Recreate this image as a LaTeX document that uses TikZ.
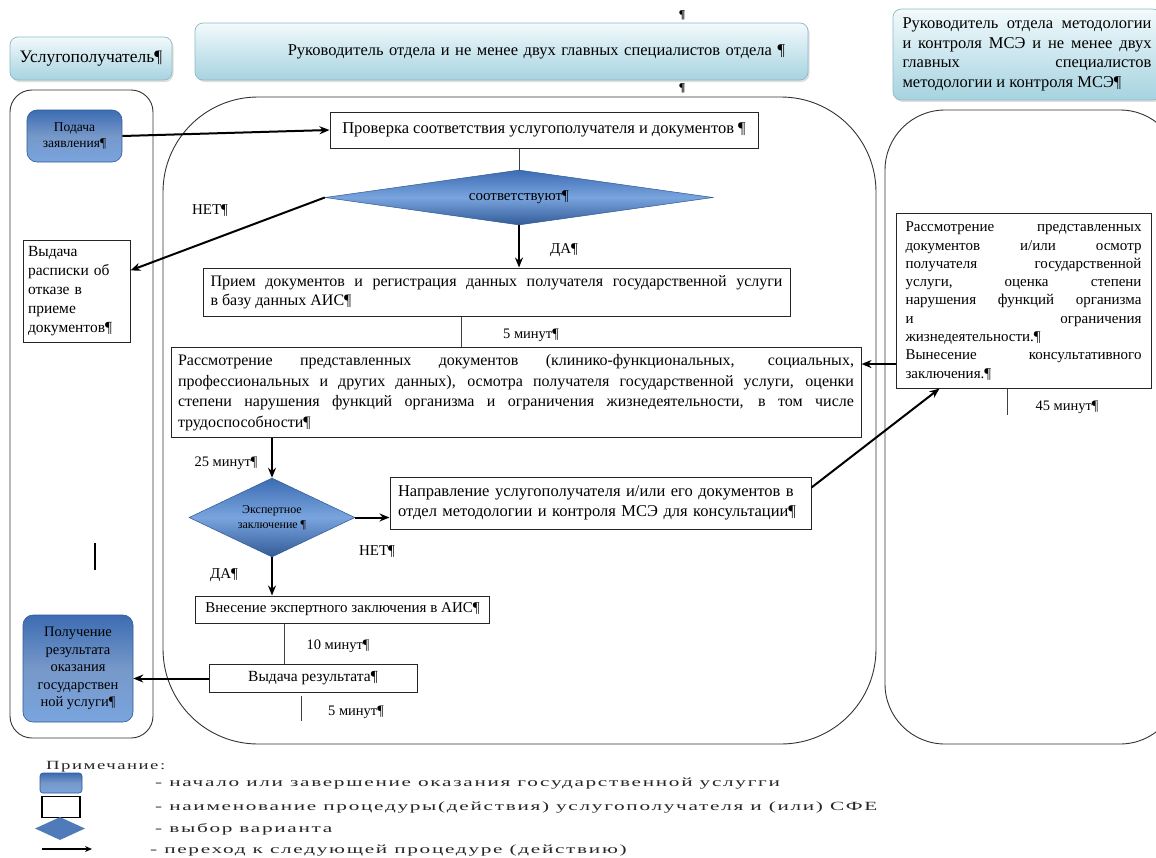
\documentclass[tikz,border=0pt]{standalone}
\usepackage{fontspec}
\setmainfont{Liberation Serif}
\newfontfamily\legfont[LetterSpace=8]{Liberation Serif}
\usetikzlibrary{shapes.geometric,arrows.meta,calc,shadows}
\definecolor{hdrtop}{HTML}{F2FAFC}
\definecolor{hdrbot}{HTML}{A6D3E0}
\definecolor{hdrline}{HTML}{8FB8C6}
\definecolor{bluetop}{HTML}{3C6CB2}
\definecolor{bluebot}{HTML}{79A4DE}
\definecolor{blueline}{HTML}{2E5A94}
\definecolor{legtext}{HTML}{262626}
\newcommand\fsz[2]{\fontsize{#1}{#2}\selectfont}
\newcommand\legtxt[1]{\scalebox{1.7}[1]{#1}}
\hyphenpenalty=10000
\exhyphenpenalty=10000
\tolerance=10000
\begin{document}
\begin{tikzpicture}[x=1pt,y=-1pt,
  lane/.style={draw=black!80, line width=0.9pt},
  hdr/.style={rounded corners=8pt, top color=hdrtop, bottom color=hdrbot, draw=hdrline, line width=0.7pt, inner sep=0pt,
    drop shadow={opacity=0.25, shadow xshift=1.5pt, shadow yshift=-2pt}},
  proc/.style={draw=black!85, line width=1pt, fill=white, inner sep=6pt},
  startend/.style={rounded corners=10pt, top color=bluetop, bottom color=bluebot, middle color=bluetop!70!white, draw=blueline, line width=0.6pt, inner sep=2pt},
  decision/.style={diamond, top color=bluetop, bottom color=bluetop!85!black, middle color=bluebot, draw=blueline, line width=0.5pt, inner sep=0pt},
  arr/.style={-{Stealth[length=10pt,width=8pt]}, line width=2pt, black},
  conn/.style={line width=0.8pt, black!75},
  lbl/.style={inner sep=0pt, font=\fsz{14.5}{16}},
  leg/.style={anchor=west, inner sep=0pt, text=legtext, font=\legfont\fsz{12.5}{14}}
]
\useasboundingbox (0,0) rectangle (1156,857);

% swimlanes
\draw[lane, rounded corners=22pt] (10,90) rectangle (153,738);
\draw[lane, rounded corners=95pt] (163,97) rectangle (876,744);
\draw[lane, rounded corners=60pt] (885,110) rectangle (1180,744);

% headers
\node[hdr, minimum width=162, minimum height=43, font=\fsz{17.5}{20}] (hL) at (91,58.5) {Услугополучатель¶};
\node[hdr, minimum width=613, minimum height=57, text width=567, align=right, font=\fsz{16.5}{19}] (hM) at (501.5,51.5) {Руководитель отдела и не менее двух главных специалистов отдела ¶};
\node[hdr, minimum width=268, minimum height=85, text width=249, inner sep=9pt, align=justify, font=\fsz{16.5}{19.5}] (hR) at (1027,54.5) {Руководитель отдела методологии\linebreak и контроля МСЭ и не менее двух\linebreak главных специалистов\linebreak методологии и контроля МСЭ¶};
\node[inner sep=0pt, font=\fsz{12}{12}\bfseries] (pA) at (682,15) {¶};
\node[inner sep=0pt, font=\fsz{12}{12}\bfseries] (pB) at (682,88) {¶};

% process nodes
\node[startend, minimum width=95, minimum height=52, align=center, font=\fsz{13.5}{16}] (podacha) at (74.5,136) {Подача\\заявления¶};
\node[proc, minimum width=428, minimum height=36, font=\fsz{16.5}{19}] (proverka) at (544,130) {Проверка соответствия услугополучателя и документов ¶};
\node[decision, minimum width=388, minimum height=55, aspect=7, font=\fsz{15}{18}] (d1) at (519,197.5) {соответствуют¶};
\node[proc, minimum width=107, minimum height=102, text width=97, inner sep=5pt, align=left, font=\fsz{15.5}{19}] (otkaz) at (76.5,291) {Выдача\\расписки об\\отказе в\\приеме\\документов¶};
\node[proc, minimum width=587, minimum height=48, text width=572, inner sep=7pt, align=justify, font=\fsz{16}{19}] (priem) at (496.5,292) {Прием документов и регистрация данных получателя государственной услуги\linebreak в базу данных АИС¶};
\node[proc, minimum width=690, minimum height=85, text width=676, inner sep=7pt, align=justify, font=\fsz{16}{20.5}] (big) at (516,392.5) {Рассмотрение представленных документов (клинико-функциональных, социальных,\linebreak профессиональных и других данных), осмотра получателя государственной услуги, оценки\linebreak степени нарушения функций организма и ограничения жизнедеятельности, в том числе\linebreak трудоспособности¶};
\node[decision, minimum width=166, minimum height=79, aspect=2.1, align=center, font=\fsz{12}{15}] (d2) at (272,517.5) {Экспертное\\заключение ¶};
\node[proc, minimum width=421, minimum height=52, text width=405, inner sep=5pt, align=left, font=\fsz{16.5}{19.5}] (napr) at (600.5,503) {Направление услугополучателя и/или его документов в\\отдел методологии и контроля МСЭ для консультации¶};
\node[proc, minimum width=255, minimum height=172, text width=236, inner sep=8pt, align=justify, font=\fsz{15}{18.3}] (rbox) at (1023.5,301) {Рассмотрение представленных\linebreak документов и/или осмотр\linebreak получателя государственной\linebreak услуги, оценка степени\linebreak нарушения функций организма\linebreak и ограничения\linebreak жизнедеятельности.¶\\Вынесение консультативного\linebreak заключения.¶};
\node[proc, minimum width=294, minimum height=27, inner sep=3pt, font=\fsz{15}{17}] (vnes) at (342.5,609.5) {Внесение экспертного заключения в АИС¶};
\node[proc, minimum width=208, minimum height=28, inner sep=3pt, font=\fsz{15.5}{17}] (vyd) at (313,678.5) {Выдача результата¶};
\node[startend, minimum width=110, minimum height=107, align=center, font=\fsz{14.5}{17.5}] (poluch) at (78,668.5) {Получение\\результата\\оказания\\государствен\\ной услуги¶};

% labels
\node[lbl, font=\fsz{15}{17}] (lNet1) at (210,211) {НЕТ¶};
\node[lbl, font=\fsz{15}{17}] (lDa1) at (564,250) {ДА¶};
\node[lbl] (l5a) at (531,335) {5 минут¶};
\node[lbl] (l25) at (226,463) {25 минут¶};
\node[lbl, font=\fsz{15}{17}] (lNet2) at (377,552) {НЕТ¶};
\node[lbl, font=\fsz{15}{17}] (lDa2) at (224,575) {ДА¶};
\node[lbl] (l10) at (338,646) {10 минут¶};
\node[lbl] (l5b) at (356,712) {5 минут¶};
\node[lbl] (l45) at (1067,407) {45 минут¶};

% connectors
\draw[arr] (podacha.east) -- (proverka.west);
\draw[conn] (d1.north |- proverka.south) -- (d1.north);
\draw[arr] (d1.south) -- (d1.south |- priem.north);
\coordinate (otkIn) at ($(otkaz.north east)!0.3!(otkaz.south east)$);
\draw[arr] (d1.west) -- (otkIn);
\coordinate (c5) at ($(priem.south)+(-35,0)$);
\draw[conn] (c5) -- (c5 |- big.north);
\draw[arr] (d2.north |- big.south) -- (d2.north);
\draw[arr] (d2.south) -- (d2.south |- vnes.north);
\draw[arr] (d2.east) -- (d2.east -| napr.west);
\coordinate (naprOut) at ($(napr.north east)+(0,11)$);
\coordinate (rboxIn) at ($(rbox.south west)+(44,0)$);
\draw[arr] (naprOut) -- (rboxIn);
\coordinate (c6) at ($(rbox.north west)!0.86!(rbox.south west)$);
\draw[arr] (c6) -- (c6 -| big.east);
\coordinate (c7) at ($(rbox.south west)+(112,0)$);
\coordinate (c7e) at ($(c7)+(0,26)$);
\draw[conn] (c7) -- (c7e);
\coordinate (c8) at ($(vnes.south)+(-58,0)$);
\draw[conn] (c8) -- (c8 |- vyd.north);
\draw[arr] (vyd.west) -- (vyd.west -| poluch.east);
\coordinate (c9) at ($(vyd.south)+(-12,3)$);
\coordinate (c9e) at ($(c9)+(0,25)$);
\draw[conn] (c9) -- (c9e);
\coordinate (m1) at (95,543);
\coordinate (m2) at (95,570);
\draw[line width=1.2pt] (m1) -- (m2);

% legend
\node[leg] (legT) at (46,767) {\scalebox{1.5}[1]{Примечание:}};
\node[startend, rounded corners=3pt, minimum width=42, minimum height=20, inner sep=0pt] (legS) at (61,783) {};
\node[leg] (legST) at (155,784) {\legtxt{- начало или завершение оказания государственной услугги}};
\node[draw=black, line width=1.8pt, fill=white, minimum width=38, minimum height=21, inner sep=0pt] (legP) at (61,807) {};
\node[leg] (legPT) at (155,807) {\legtxt{- наименование процедуры(действия) услугополучателя и (или) СФЕ}};
\node[diamond, fill=bluetop!90!white, minimum width=50, minimum height=23, aspect=2.2, inner sep=0pt] (legD) at (60,828.5) {};
\node[leg] (legDT) at (155,829) {\legtxt{- выбор варианта}};
\coordinate (legA1) at (42,849);
\coordinate (legA2) at (92,849);
\draw[-{Stealth[length=7pt,width=6pt]}, line width=1.3pt] (legA1) -- (legA2);
\node[leg] (legAT) at (150,850) {\legtxt{- переход к следующей процедуре (действию)}};
\end{tikzpicture}
\end{document}
